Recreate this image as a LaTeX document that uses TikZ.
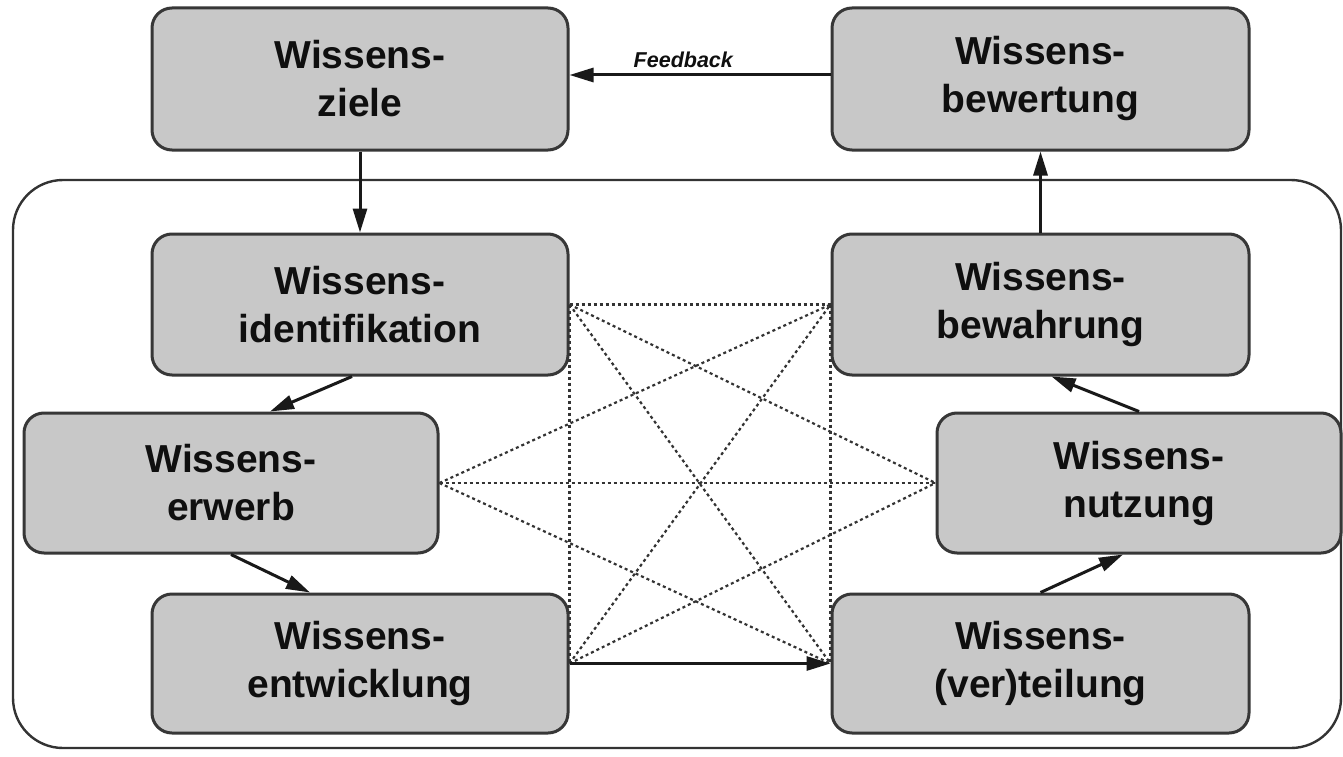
\documentclass[tikz,border=0pt]{standalone}
\usepackage{fontspec}
\setmainfont{Liberation Sans}
\usetikzlibrary{arrows.meta}
\definecolor{boxfill}{RGB}{200,200,200}
\definecolor{boxline}{RGB}{55,55,55}
\definecolor{txt}{RGB}{15,15,15}
\begin{document}
\begin{tikzpicture}[x=1pt,y=-1pt,
  kbox/.style={draw=boxline, line width=3pt, fill=boxfill, rounded corners=20pt,
    align=center, text=txt, inner sep=0pt,
    font=\fontsize{39}{48}\selectfont\bfseries},
  flow/.style={draw=black!90, line width=3pt, -{Triangle[length=24pt,width=14pt]}},
  link/.style={draw=black!80, line width=2.2pt, dash pattern=on 3pt off 3pt},
  frame/.style={draw=black!80, line width=2.4pt, rounded corners=50pt}]
\useasboundingbox (0,0) rectangle (1343,757);
\fill[white] (0,0) rectangle (1343,757);
% container
\draw[frame] (13,180) rectangle (1341,748);
% boxes
\node[kbox, minimum width=416pt, minimum height=142pt] (ziele) at (360,79) {Wissens-\\ziele};
\node[kbox, minimum width=417pt, minimum height=142pt] (bewertung) at (1040.5,79) {Wissens-\\bewertung};
\node[kbox, minimum width=416pt, minimum height=141pt] (ident) at (360,304.5) {Wissens-\\identifikation};
\node[kbox, minimum width=417pt, minimum height=141pt] (bewahrung) at (1040.5,304.5) {Wissens-\\bewahrung};
\node[kbox, minimum width=414pt, minimum height=140pt] (erwerb) at (231,483) {Wissens-\\erwerb};
\node[kbox, minimum width=404pt, minimum height=140pt] (nutzung) at (1139,483) {Wissens-\\nutzung};
\node[kbox, minimum width=416pt, minimum height=139pt] (entw) at (360,663.5) {Wissens-\\entwicklung};
\node[kbox, minimum width=417pt, minimum height=139pt] (teilung) at (1040.5,663.5) {Wissens-\\(ver)teilung};
% dotted links
\draw[link] (ident.east) -- (bewahrung.west);
\draw[link] (ident.east) -- (nutzung.west);
\draw[link] (ident.east) -- (teilung.west);
\draw[link] (erwerb.east) -- (bewahrung.west);
\draw[link] (erwerb.east) -- (nutzung.west);
\draw[link] (erwerb.east) -- (teilung.west);
\draw[link] (entw.east) -- (bewahrung.west);
\draw[link] (entw.east) -- (nutzung.west);
\draw[link] (ident.east) -- (entw.east);
\draw[link] (bewahrung.west) -- (teilung.west);
% flow arrows
\draw[flow] ([yshift=4pt]bewertung.west) -- node[pos=0.564, anchor=base, yshift=7pt, text=txt,
  font=\fontsize{21.5}{24}\selectfont\bfseries\itshape] (fb) {Feedback} ([yshift=4pt]ziele.east);
\draw[flow] (ziele.south) -- (ident.north);
\draw[flow] (bewahrung.north) -- (bewertung.south);
\draw[flow] ([xshift=-8pt]ident.south) -- ([xshift=39pt]erwerb.north);
\draw[flow] (erwerb.south) -- ([xshift=-50pt]entw.north);
\draw[flow] (entw.east) -- (teilung.west);
\draw[flow] (teilung.north) -- ([xshift=-16pt]nutzung.south);
\draw[flow] (nutzung.north) -- ([xshift=11pt]bewahrung.south);
\end{tikzpicture}
\end{document}
